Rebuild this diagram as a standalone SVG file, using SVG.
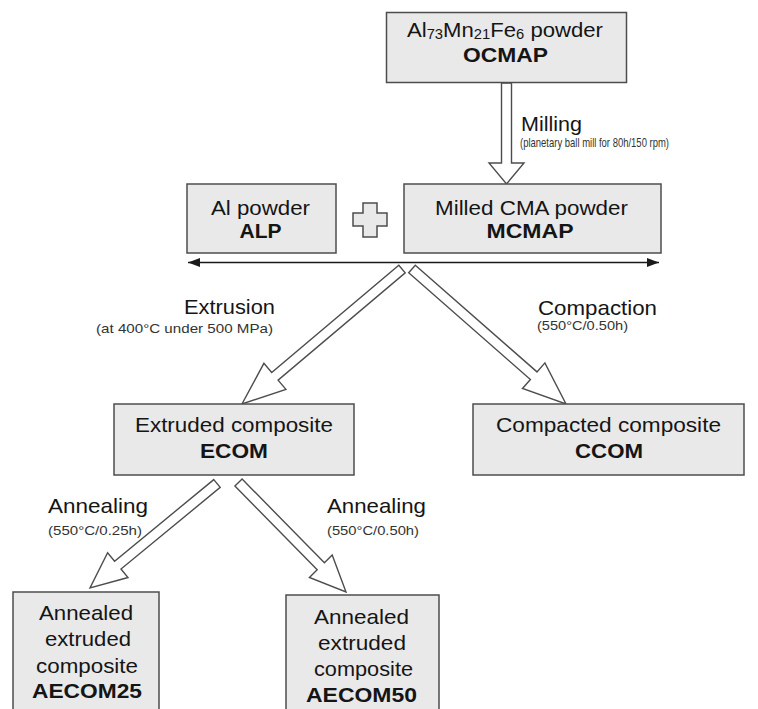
<svg xmlns="http://www.w3.org/2000/svg" width="758" height="709" viewBox="0 0 758 709">
<defs>
<style>
.box{fill:#e9e9e9;stroke:#4d4d4d;stroke-width:1.5}
.t{font-family:"Liberation Sans",Arial,sans-serif;font-size:21px;fill:#151515;text-anchor:middle}
.b{font-weight:bold}
.lbl{font-family:"Liberation Sans",Arial,sans-serif;font-size:21px;fill:#151515}
.sm{font-family:"Liberation Sans",Arial,sans-serif;font-size:13px;fill:#333}
.blk{fill:#fff;stroke:#4d4d4d;stroke-width:1.4;stroke-linejoin:miter}
.dbl{stroke:#1a1a1a;stroke-width:1.6;fill:none}
</style>
<marker id="ah" markerWidth="12" markerHeight="10" refX="12" refY="5" orient="auto-start-reverse" markerUnits="userSpaceOnUse"><path d="M0,0.5 L12,5 L0,9.5 Z" fill="#1a1a1a"/></marker>
</defs>
<rect width="758" height="709" fill="#fff"/>

<g id="connectors">
  <polygon class="blk" points="501.5,83 511.5,83 511.5,163 524,163 506.5,184 489,163 501.5,163"/>
  <line class="dbl" x1="188" y1="262.5" x2="659" y2="262.5" marker-start="url(#ah)" marker-end="url(#ah)"/>
  <polygon class="blk" points="398.8,265.2 405.2,272.8 278.1,380.1 285.9,389.3 242,404 263.9,363.3 271.7,372.5"/>
  <polygon class="blk" points="415.3,265.2 537,371.9 544.9,362.9 566,404 522.5,388.5 530.4,379.5 408.7,272.8"/>
  <polygon class="blk" points="213.8,479.6 220.2,487.4 121,569 128,577.5 90,588 107.6,552.7 114.6,561.2"/>
  <polygon class="blk" points="242.1,479 324.4,562.8 332.2,555.1 346,592 309.4,577.5 317.2,569.8 234.9,486"/>
  <text class="lbl" x="521" y="130.5" textLength="61" lengthAdjust="spacingAndGlyphs">Milling</text>
  <text class="sm" x="520" y="146.5" textLength="149" lengthAdjust="spacingAndGlyphs">(planetary ball mill for 80h/150 rpm)</text>
  <text class="lbl" x="184" y="314" textLength="91" lengthAdjust="spacingAndGlyphs">Extrusion</text>
  <text class="sm" x="96" y="332.5" textLength="177" lengthAdjust="spacingAndGlyphs">(at 400°C under 500 MPa)</text>
  <text class="lbl" x="538" y="315" textLength="119" lengthAdjust="spacingAndGlyphs">Compaction</text>
  <text class="sm" x="537" y="330" textLength="91" lengthAdjust="spacingAndGlyphs">(550°C/0.50h)</text>
  <text class="lbl" x="48" y="513" textLength="100" lengthAdjust="spacingAndGlyphs">Annealing</text>
  <text class="sm" x="48" y="535" textLength="94" lengthAdjust="spacingAndGlyphs">(550°C/0.25h)</text>
  <text class="lbl" x="327" y="513" textLength="99" lengthAdjust="spacingAndGlyphs">Annealing</text>
  <text class="sm" x="327" y="535" textLength="92" lengthAdjust="spacingAndGlyphs">(550°C/0.50h)</text>
</g>

<g id="plus">
  <polygon class="box" points="363,203 377,203 377,213 387,213 387,226 377,226 377,237 363,237 363,226 353,226 353,213 363,213"/>
</g>

<g id="OCMAP">
  <rect class="box" x="386.5" y="12.5" width="240" height="70"/>
  <text class="t" x="505" y="37" textLength="196" lengthAdjust="spacingAndGlyphs">Al<tspan font-size="14" dy="2">73</tspan><tspan dy="-2">Mn</tspan><tspan font-size="14" dy="2">21</tspan><tspan dy="-2">Fe</tspan><tspan font-size="14" dy="2">6</tspan><tspan dy="-2"> powder</tspan></text>
  <text class="t b" x="505.5" y="62" textLength="85" lengthAdjust="spacingAndGlyphs">OCMAP</text>
</g>

<g id="ALP">
  <rect class="box" x="187" y="184" width="149" height="69"/>
  <text class="t" x="260.5" y="215" textLength="99" lengthAdjust="spacingAndGlyphs">Al powder</text>
  <text class="t b" x="260.5" y="238" textLength="42" lengthAdjust="spacingAndGlyphs">ALP</text>
</g>

<g id="MCMAP">
  <rect class="box" x="404" y="184" width="257" height="69"/>
  <text class="t" x="531.5" y="215" textLength="193" lengthAdjust="spacingAndGlyphs">Milled CMA powder</text>
  <text class="t b" x="530" y="238" textLength="87" lengthAdjust="spacingAndGlyphs">MCMAP</text>
</g>

<g id="ECOM">
  <rect class="box" x="114" y="404" width="240" height="71"/>
  <text class="t" x="234" y="432" textLength="198" lengthAdjust="spacingAndGlyphs">Extruded composite</text>
  <text class="t b" x="234" y="458" textLength="68" lengthAdjust="spacingAndGlyphs">ECOM</text>
</g>

<g id="CCOM">
  <rect class="box" x="473" y="404" width="271" height="71"/>
  <text class="t" x="608.5" y="432" textLength="225" lengthAdjust="spacingAndGlyphs">Compacted composite</text>
  <text class="t b" x="609" y="458" textLength="68" lengthAdjust="spacingAndGlyphs">CCOM</text>
</g>

<g id="AECOM25">
  <rect class="box" x="13" y="592" width="146" height="130"/>
  <text class="t" x="86" y="620" textLength="94" lengthAdjust="spacingAndGlyphs">Annealed</text>
  <text class="t" x="88" y="646" textLength="86" lengthAdjust="spacingAndGlyphs">extruded</text>
  <text class="t" x="87" y="673" textLength="102" lengthAdjust="spacingAndGlyphs">composite</text>
  <text class="t b" x="87" y="698" textLength="110" lengthAdjust="spacingAndGlyphs">AECOM25</text>
</g>

<g id="AECOM50">
  <rect class="box" x="286" y="595" width="153" height="130"/>
  <text class="t" x="361.5" y="624" textLength="95" lengthAdjust="spacingAndGlyphs">Annealed</text>
  <text class="t" x="362" y="650" textLength="88" lengthAdjust="spacingAndGlyphs">extruded</text>
  <text class="t" x="363.5" y="676" textLength="99" lengthAdjust="spacingAndGlyphs">composite</text>
  <text class="t b" x="361.5" y="702" textLength="111" lengthAdjust="spacingAndGlyphs">AECOM50</text>
</g>
</svg>
